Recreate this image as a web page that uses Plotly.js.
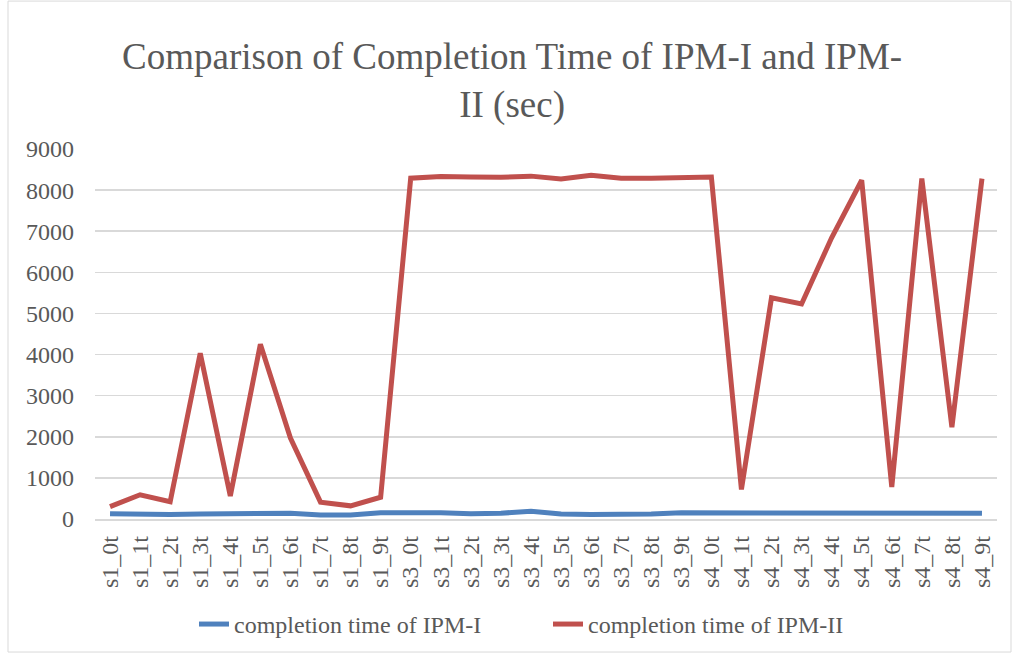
<!DOCTYPE html>
<html>
<head>
<meta charset="utf-8">
<script src="https://cdn.plot.ly/plotly-3.0.1.min.js"></script>
<style>
  html, body { margin: 0; padding: 0; background: #ffffff; }
  #chart { width: 1014px; height: 659px; }
</style>
</head>
<body>
<div id="chart"></div>
<script>
const categories = [
  's1_0t','s1_1t','s1_2t','s1_3t','s1_4t','s1_5t','s1_6t','s1_7t','s1_8t','s1_9t',
  's3_0t','s3_1t','s3_2t','s3_3t','s3_4t','s3_5t','s3_6t','s3_7t','s3_8t','s3_9t',
  's4_0t','s4_1t','s4_2t','s4_3t','s4_4t','s4_5t','s4_6t','s4_7t','s4_8t','s4_9t'
];
const ipm1Values = [
  130, 110, 110, 120, 130, 140, 140, 100, 100, 150,
  160, 150, 130, 140, 190, 120, 110, 110, 120, 150,
  150, 140, 140, 150, 160, 130, 130, 150, 160, 140
];
const ipm2Values = [
  300, 590, 420, 4030, 560, 4250, 1970, 410, 320, 530,
  8290, 8330, 8320, 8310, 8340, 8270, 8360, 8290, 8290, 8320,
  8320, 720, 5380, 5230, 6840, 8240, 780, 8280, 2230, 8280
];
const seriesNames = ['completion time of IPM-I', 'completion time of IPM-II'];
const yTicks = [0, 1000, 2000, 3000, 4000, 5000, 6000, 7000, 8000, 9000];

const textColor = '#595959';
const fontFamily = 'Times New Roman, Liberation Serif, Tinos, Nimbus Roman, serif';

const traces = [
  {
    x: categories, y: ipm1Values, name: seriesNames[0],
    type: 'scatter', mode: 'lines',
    line: { color: '#4f81bd', width: 5 }
  },
  {
    x: categories, y: ipm2Values, name: seriesNames[1],
    type: 'scatter', mode: 'lines',
    line: { color: '#c0504d', width: 5 }
  }
];

const layout = {
  width: 1014, height: 659,
  paper_bgcolor: '#ffffff', plot_bgcolor: '#ffffff',
  font: { family: fontFamily, color: textColor, size: 24 },
  title: {
    text: 'Comparison of Completion Time of IPM-I and IPM-<br>II (sec)',
    font: { family: fontFamily, size: 37, color: textColor },
    x: 0.505, xanchor: 'center', xref: 'container',
    y: 0.896, yanchor: 'middle'
  },
  margin: { l: 95, r: 17, t: 149, b: 137 },
  xaxis: {
    type: 'category',
    range: [-0.5, categories.length - 0.5],
    tickangle: -90,
    showgrid: false,
    showline: true, linecolor: '#d9d9d9', linewidth: 1.5,
    ticks: '', ticklabelstandoff: 6,
    tickfont: { family: fontFamily, size: 24, color: textColor },
    zeroline: false, fixedrange: true
  },
  yaxis: {
    range: [0, 9000],
    tickvals: yTicks,
    ticktext: yTicks.map(String),
    showgrid: true, gridcolor: '#d9d9d9', gridwidth: 1.5,
    zeroline: false, showline: false, ticks: '',
    ticklabelstandoff: 20,
    tickfont: { family: fontFamily, size: 24, color: textColor },
    fixedrange: true
  },
  showlegend: true,
  legend: {
    orientation: 'h',
    x: (194 - 95) / 902, xanchor: 'left',
    y: -0.285, yanchor: 'middle',
    font: { family: fontFamily, size: 24, color: textColor },
    entrywidth: 309, entrywidthmode: 'pixels',
    traceorder: 'normal'
  },
  shapes: [
    {
      type: 'rect', xref: 'paper', yref: 'paper',
      x0: -87 / 902, x1: (1011 - 95) / 902,
      y0: (522 - 656) / 372.7, y1: 1 + 149 / 372.7,
      line: { color: '#d9d9d9', width: 1 },
      fillcolor: 'rgba(0,0,0,0)', layer: 'below'
    }
  ]
};

Plotly.newPlot('chart', traces, layout, { displayModeBar: false, staticPlot: true });
</script>
</body>
</html>
